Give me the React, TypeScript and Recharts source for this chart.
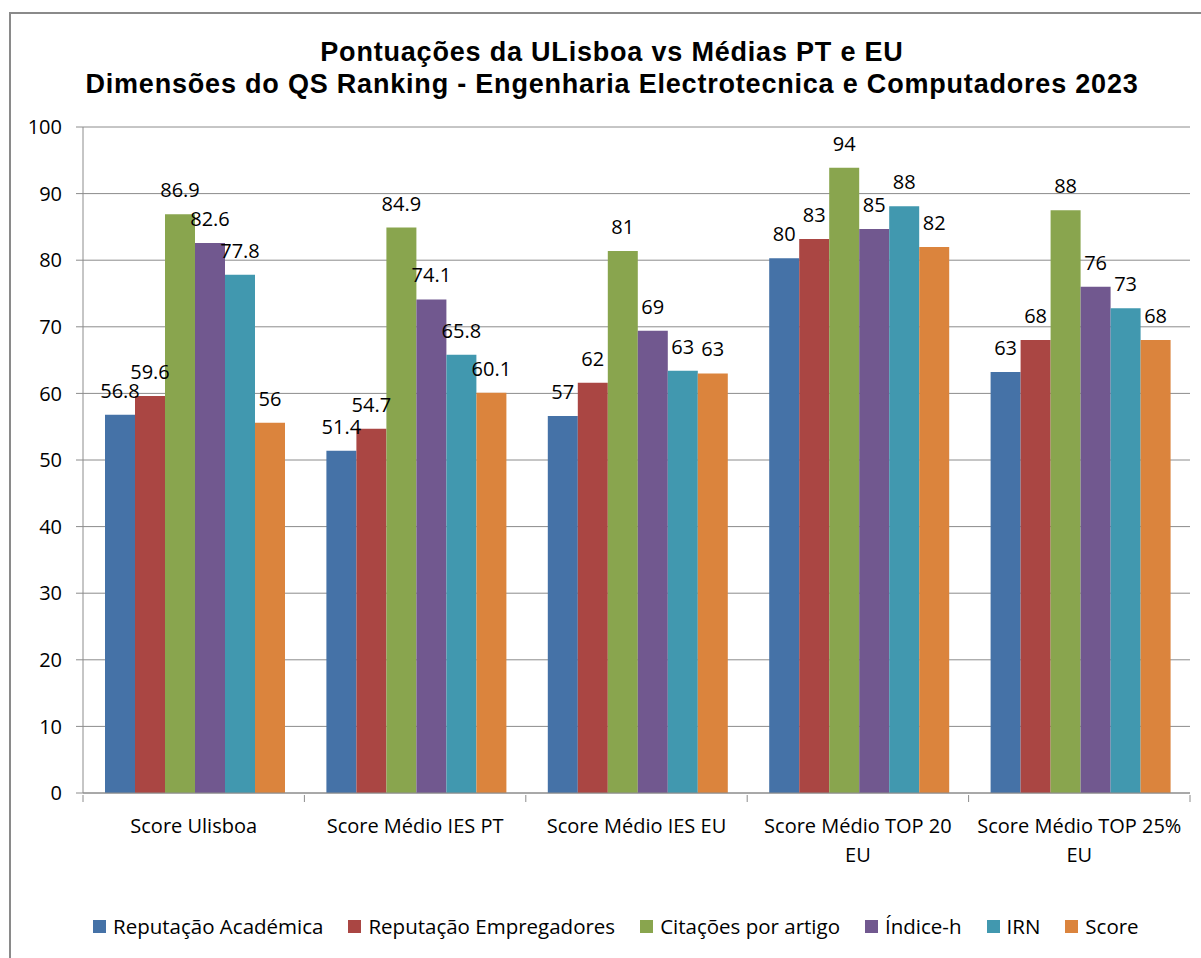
import { BarChart, Bar, XAxis, YAxis, CartesianGrid, LabelList } from "recharts"

const categories = [
  "Score Ulisboa",
  "Score Médio IES PT",
  "Score Médio IES EU",
  "Score Médio TOP 20 EU",
  "Score Médio TOP 25% EU",
]

const seriesNames = [
  "Reputação Académica",
  "Reputação Empregadores",
  "Citações por artigo",
  "Índice-h",
  "IRN",
  "Score",
]

const repAcademica = [56.8, 51.4, 56.6, 80.3, 63.2]
const repEmpregadores = [59.6, 54.7, 61.6, 83.2, 68.0]
const citacoes = [86.9, 84.9, 81.4, 93.9, 87.5]
const indiceH = [82.6, 74.1, 69.4, 84.7, 76.0]
const irn = [77.8, 65.8, 63.4, 88.1, 72.8]
const score = [55.6, 60.1, 63.0, 82.0, 68.0]

// labels as shown on the chart (source rounds some of them)
const repAcademicaLabels = ["56.8", "51.4", "57", "80", "63"]
const repEmpregadoresLabels = ["59.6", "54.7", "62", "83", "68"]
const citacoesLabels = ["86.9", "84.9", "81", "94", "88"]
const indiceHLabels = ["82.6", "74.1", "69", "85", "76"]
const irnLabels = ["77.8", "65.8", "63", "88", "73"]
const scoreLabels = ["56", "60.1", "63", "82", "68"]

const yTicks = [0, 10, 20, 30, 40, 50, 60, 70, 80, 90, 100]

const COLORS = ["#4572A7", "#AA4643", "#89A54E", "#71588F", "#4198AF", "#DB843D"]
const FONT = "'Open Sans', sans-serif"
const GRID = "#8c8c8c"

const seriesValues = [repAcademica, repEmpregadores, citacoes, indiceH, irn, score]
const seriesLabels = [
  repAcademicaLabels,
  repEmpregadoresLabels,
  citacoesLabels,
  indiceHLabels,
  irnLabels,
  scoreLabels,
]

const data = categories.map((name, i) => {
  const row: Record<string, string | number> = { name }
  seriesValues.forEach((vals, s) => {
    row[`s${s}`] = vals[i]
    row[`l${s}`] = seriesLabels[s][i]
  })
  return row
})

let ctx: CanvasRenderingContext2D | null = null

// greedy word wrap, measured with a canvas
function wrap(text: string, maxWidth: number): string[] {
  if (!ctx) ctx = document.createElement("canvas").getContext("2d")
  if (!ctx) return [text]
  ctx.font = `20px ${FONT}`
  const lines: string[] = []
  let cur = ""
  for (const w of text.split(" ")) {
    const next = cur ? `${cur} ${w}` : w
    if (cur && ctx.measureText(next).width > maxWidth) {
      lines.push(cur)
      cur = w
    } else {
      cur = next
    }
  }
  if (cur) lines.push(cur)
  return lines
}

function CategoryTick(props: any) {
  const { x, y, payload, index } = props
  const half = payload.offset ?? 110
  const lines = wrap(String(payload.value), 207)
  return (
    <g>
      <line x1={x - half} y1={y - 8} x2={x - half} y2={y - 1} stroke={GRID} />
      {index === categories.length - 1 && (
        <line x1={x + half} y1={y - 8} x2={x + half} y2={y - 1} stroke={GRID} />
      )}
      <text x={x} y={y + 30} textAnchor="middle" fill="#000" fontSize={20} fontFamily={FONT}>
        {lines.map((l, i) => (
          <tspan key={i} x={x} dy={i === 0 ? 0 : 29}>
            {l}
          </tspan>
        ))}
      </text>
    </g>
  )
}

export default function App() {
  return (
    <div style={{ position: "absolute", left: 0, top: 0, width: 1201, height: 958, background: "#fff", overflow: "hidden" }}>
      <div
        style={{
          position: "absolute",
          left: 9,
          top: 12,
          width: 1300,
          height: 1100,
          border: "2px solid #8a8a8a",
        }}
      />
      <div
        style={{
          position: "absolute",
          left: 0,
          top: 36,
          width: 1224,
          textAlign: "center",
          fontFamily: "'Liberation Sans', Arial, sans-serif",
          fontWeight: "bold",
          fontSize: 27,
          letterSpacing: 0.8,
          lineHeight: "32px",
          color: "#000",
        }}
      >
        <div>Pontuações da ULisboa vs Médias PT e EU</div>
        <div>Dimensões do QS Ranking - Engenharia Electrotecnica e Computadores 2023</div>
      </div>
      <div style={{ position: "absolute", left: 0, top: 0 }}>
        <BarChart
          width={1201}
          height={958}
          data={data}
          margin={{ top: 127, right: 11, left: 0, bottom: 0 }}
          barCategoryGap={22}
          barGap={0}
        >
          <CartesianGrid vertical={false} stroke={GRID} />
          <YAxis
            domain={[0, 100]}
            ticks={yTicks}
            width={83}
            interval={0}
            tickSize={7}
            tickMargin={14}
            axisLine={{ stroke: GRID }}
            tickLine={{ stroke: GRID }}
            tick={{ fill: "#000", fontSize: 20, fontFamily: FONT }}
          />
          <XAxis
            dataKey="name"
            height={165}
            interval={0}
            tickLine={false}
            tickSize={8}
            axisLine={{ stroke: GRID }}
            tick={<CategoryTick />}
          />
          {seriesNames.map((n, s) => (
            <Bar key={n} dataKey={`s${s}`} name={n} fill={COLORS[s]} isAnimationActive={false}>
              <LabelList
                dataKey={`l${s}`}
                position="top"
                offset={17}
                fill="#000"
                style={{ fontSize: 20, fontFamily: FONT }}
              />
            </Bar>
          ))}
        </BarChart>
      </div>
      <div
        style={{
          position: "absolute",
          left: 93,
          top: 912,
          display: "flex",
          alignItems: "center",
          fontFamily: FONT,
          fontSize: 20.5,
          color: "#000",
          whiteSpace: "nowrap",
        }}
      >
        {seriesNames.map((n, s) => (
          <div key={n} style={{ display: "flex", alignItems: "center", marginRight: 25 }}>
            <span style={{ width: 13, height: 13, background: COLORS[s], marginRight: 7, display: "inline-block" }} />
            <span>{n}</span>
          </div>
        ))}
      </div>
    </div>
  )
}
